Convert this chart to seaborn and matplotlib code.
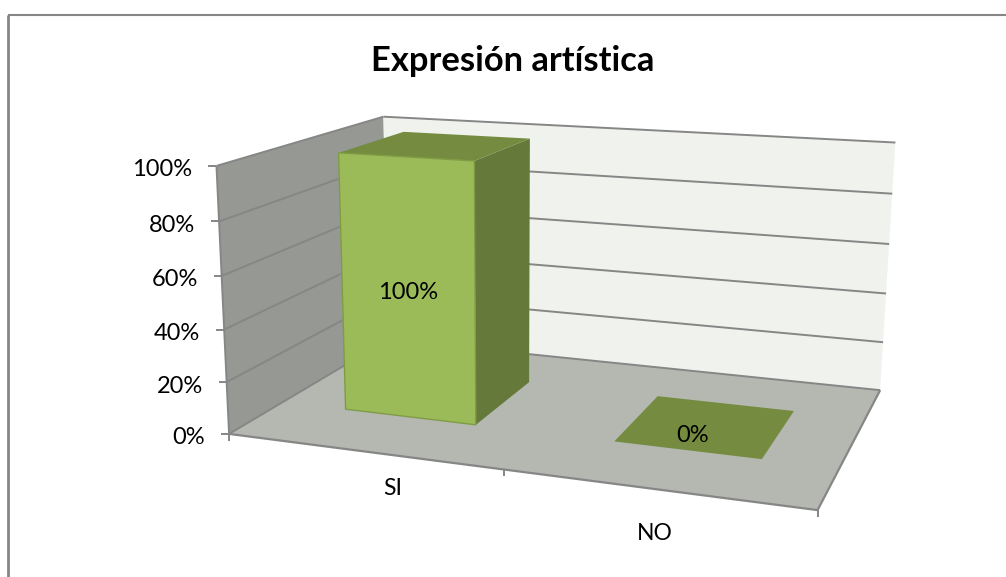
import numpy as np
import matplotlib
matplotlib.use("Agg")
import matplotlib.pyplot as plt
import seaborn as sns
from matplotlib.patches import Polygon
from matplotlib.transforms import Affine2D, Transform

categories = ["SI", "NO"]
values = [100, 0]
value_ticks = [0, 20, 40, 60, 80, 100]
title = "Expresión artística"

W, H = 1006, 577
GRID = "#868686"
FRONT, TOP, SIDE = "#9bbb59", "#758c40", "#64793a"

sns.set_theme(style="white")
plt.rcParams["font.family"] = ["Lato", "DejaVu Sans"]

# camera fitted on the corners of the 3D box: (category, depth, value/100) -> pixel
box = [((0, 0, 0), (231, 434)), ((2, 0, 0), (817, 511)), ((2, 1, 0), (881, 389)),
       ((0, 1, 0), (386, 340)), ((0, 0, 1), (215, 165)), ((0, 1, 1), (385, 117)),
       ((2, 1, 1), (895, 143))]
A, b = [], []
for (X, Y, Z), (px, py) in box:
    A.append([X, Y, Z, 1, 0, 0, 0, 0, -px * X, -px * Y, -px * Z])
    A.append([0, 0, 0, 0, X, Y, Z, 1, -py * X, -py * Y, -py * Z])
    b += [px, py]
cam = np.append(np.linalg.lstsq(np.array(A, float), np.array(b, float), rcond=None)[0], 1).reshape(3, 4)


def project(u, d, v):
    p = cam @ np.array([u, d, v / 100, 1.0])
    return p[0] / p[2], p[1] / p[2]


class DepthPlane(Transform):
    # maps seaborn's (category, value) data onto a plane at a given depth
    input_dims = output_dims = 2
    is_affine = False

    def __init__(self, plane_depth):
        super().__init__()
        self.plane_depth = plane_depth

    def transform_non_affine(self, xy):
        out = [project(x + 0.5, self.plane_depth, y) for x, y in np.asarray(xy)]
        return np.array([(x, H - y) for x, y in out])


PIX = Affine2D().scale(1, -1).translate(0, H)
D0, D1 = 0.30, 0.72

fig = plt.figure(figsize=(W / 100, H / 100), dpi=100)
ax = fig.add_axes([0, 0, 1, 1])
ax.axis("off")


def face(pts, color, z, edge="none"):
    ax.add_patch(Polygon(pts, closed=True, facecolor=color, edgecolor=edge, lw=1,
                         transform=PIX, clip_on=False, zorder=z))


def line(p, q, lw=1.4, color=GRID, z=2):
    ax.plot([p[0], q[0]], [p[1], q[1]], color=color, lw=lw, transform=PIX,
            clip_on=False, zorder=z, solid_capstyle="butt")


# chart frame
line((7.5, 14.5), (W, 14.5), lw=1.5)
line((7.5, 14.5), (7.5, H), lw=2)

# walls and floor
top = max(value_ticks)
face([project(0, 0, 0), project(0, 1, 0), project(0, 1, top), project(0, 0, top)], "#969893", 1)
face([project(0, 1, 0), project(2, 1, 0), project(2, 1, top), project(0, 1, top)], "#f0f3ed", 1)
face([project(0, 0, 0), project(2, 0, 0), project(2, 1, 0), project(0, 1, 0)], "#b5b8b1", 1)

for v in value_ticks:
    line(project(0, 1, v), project(2, 1, v))
    line(project(0, 0, v), project(0, 1, v))
    x, y = project(0, 0, v)
    line((x - 8, y), (x, y))
    ax.text(x - 24, y + 4, f"{v}%", ha="right", va="center", fontsize=17, color="black",
            transform=PIX, zorder=6)
line(project(0, 0, 0), project(0, 0, top))
line(project(0, 0, 0), project(2, 0, 0), lw=1.6)
line(project(2, 0, 0), project(2, 1, 0), lw=1.6)
for u in range(3):
    x, y = project(u, 0, 0)
    line((x, y), (x, y + 7))

# bars: seaborn draws the front faces, sides and tops follow from the same rectangles
sns.barplot(x=categories, y=values, color=FRONT, width=0.5, saturation=1, ax=ax,
            edgecolor="#7f9c45", linewidth=1, zorder=5)
ax.axis("off")
for bar, val in zip(ax.containers[0], values):
    x0, x1 = bar.get_x() + 0.5, bar.get_x() + bar.get_width() + 0.5
    face([project(x1, D0, 0), project(x1, D1, 0), project(x1, D1, val), project(x1, D0, val)], SIDE, 3)
    face([project(x0, D0, val), project(x1, D0, val), project(x1, D1, val), project(x0, D1, val)], TOP, 4)
    if val > 0:
        bar.set_transform(DepthPlane(D0))
        bar.set_clip_on(False)
        cx, cy = project((x0 + x1) / 2, D0, val / 2)
        cy += 3
    else:
        bar.set_visible(False)
        cx, cy = project((x0 + x1) / 2, D0 + 0.3 * (D1 - D0), 0)
        cx -= 6
    ax.text(cx, cy, f"{val}%", ha="center", va="center", fontsize=17, color="black",
            transform=PIX, zorder=7)

for name, (u, dy) in zip(categories, [(0.61, 33), (1.5, 44)]):
    x, y = project(u, 0, 0)
    ax.text(x, y + dy, name, ha="center", va="center", fontsize=16.5, color="black",
            transform=PIX, zorder=6)

ax.text(513, 61, title, ha="center", va="center", fontsize=24.8, fontweight="bold",
        color="black", transform=PIX)

fig.savefig("out.png", dpi=100)
